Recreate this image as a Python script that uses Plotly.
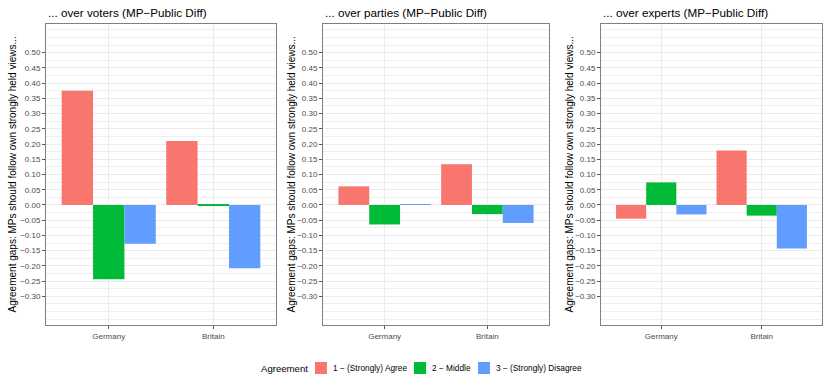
import plotly.graph_objects as go

countries = ["Germany", "Britain"]
groups = ["1 − (Strongly) Agree", "2 − Middle", "3 − (Strongly) Disagree"]
colors = ["#F8766D", "#00BA38", "#619CFF"]
panel_titles = ["... over voters (MP−Public Diff)",
                "... over parties (MP−Public Diff)",
                "... over experts (MP−Public Diff)"]
legend_title = "Agreement"

# values per panel: [agree, middle, disagree], each with [Germany, Britain]
voters_agree = [0.375, 0.210]
voters_middle = [-0.244, -0.002]
voters_disagree = [-0.127, -0.208]

parties_agree = [0.061, 0.134]
parties_middle = [-0.064, -0.030]
parties_disagree = [0.003, -0.059]

experts_agree = [-0.045, 0.179]
experts_middle = [0.074, -0.035]
experts_disagree = [-0.031, -0.143]

panels = [
    [voters_agree, voters_middle, voters_disagree],
    [parties_agree, parties_middle, parties_disagree],
    [experts_agree, experts_middle, experts_disagree],
]

major_ticks = [round(-0.30 + 0.05 * i, 2) for i in range(17)]
minor_ticks = [round(-0.375 + 0.025 * i, 3) for i in range(39)]
y_title = "Agreement gaps: MPs should follow own strongly held views..."

W, H = 825, 377
px_x = [(46, 276), (323, 549), (601, 822)]
top_px, bot_px = 24, 325
ytitle_x = [12, 291, 569]
FONT = "Liberation Sans, Arial, sans-serif"

fig = go.Figure()
for p, vals in enumerate(panels):
    xa = "x" if p == 0 else f"x{p+1}"
    ya = "y" if p == 0 else f"y{p+1}"
    for g in range(3):
        fig.add_trace(go.Bar(
            x=countries, y=vals[g], name=groups[g],
            marker=dict(color=colors[g], line=dict(width=0)),
            legendgroup=groups[g], showlegend=False,
            xaxis=xa, yaxis=ya,
        ))
    axis_common = dict(showline=True, mirror=True, linecolor="#7F7F7F", linewidth=1,
                       ticks="outside", ticklen=3, tickcolor="#555555", tickwidth=1,
                       tickfont=dict(size=8, color="#4D4D4D", family=FONT),
                       zeroline=False, gridcolor="#EBEBEB", gridwidth=1)
    xdom = [px_x[p][0] / W, px_x[p][1] / W]
    ydom = [1 - bot_px / H, 1 - top_px / H]
    fig.layout[f"xaxis{'' if p == 0 else p+1}"] = dict(
        domain=xdom, anchor=ya, type="category", range=[-0.6, 1.6],
        showgrid=True, **axis_common)
    fig.layout[f"yaxis{'' if p == 0 else p+1}"] = dict(
        domain=ydom, anchor=xa, range=[-0.394, 0.594],
        tickmode="array", tickvals=major_ticks, tickformat=".2f",
        showgrid=True,
        minor=dict(tickmode="array", tickvals=minor_ticks, showgrid=True,
                   gridcolor="#EFEFEF", gridwidth=0.6, ticks=""),
        **axis_common)
    fig.add_annotation(text=panel_titles[p], xref="paper", yref="paper",
                       x=px_x[p][0] / W, y=1 - 13 / H, xanchor="left", yanchor="middle",
                       showarrow=False, font=dict(size=11.7, color="black", family=FONT))
    fig.add_annotation(text=y_title, xref="paper", yref="paper",
                       x=ytitle_x[p] / W, y=1 - ((top_px + bot_px) / 2) / H,
                       xanchor="center", yanchor="middle", textangle=-90,
                       showarrow=False, font=dict(size=10, color="black", family=FONT))

# legend (bottom, drawn as keys + labels)
leg_y = 1 - 368 / H
fig.add_annotation(text=legend_title, xref="paper", yref="paper", x=259 / W, y=leg_y,
                   xanchor="left", yanchor="middle", showarrow=False,
                   font=dict(size=9.6, color="black", family=FONT))
key_x = [315, 414, 478]
for g in range(3):
    fig.add_shape(type="rect", xref="paper", yref="paper",
                  x0=key_x[g] / W, x1=(key_x[g] + 12) / W,
                  y0=leg_y - 6 / H, y1=leg_y + 6 / H,
                  fillcolor=colors[g], line=dict(width=0))
    fig.add_annotation(text=groups[g], xref="paper", yref="paper",
                       x=(key_x[g] + 16) / W, y=leg_y, xanchor="left", yanchor="middle",
                       showarrow=False, font=dict(size=8.3, color="black", family=FONT))

fig.update_layout(
    width=W, height=H,
    margin=dict(l=0, r=0, t=0, b=0),
    paper_bgcolor="white", plot_bgcolor="white",
    barmode="group", bargap=0.1, bargroupgap=0,
    font=dict(family=FONT),
    showlegend=False,
)

fig.write_html("out.html", config={"displayModeBar": False},
               post_script="document.body.style.margin='0';")
